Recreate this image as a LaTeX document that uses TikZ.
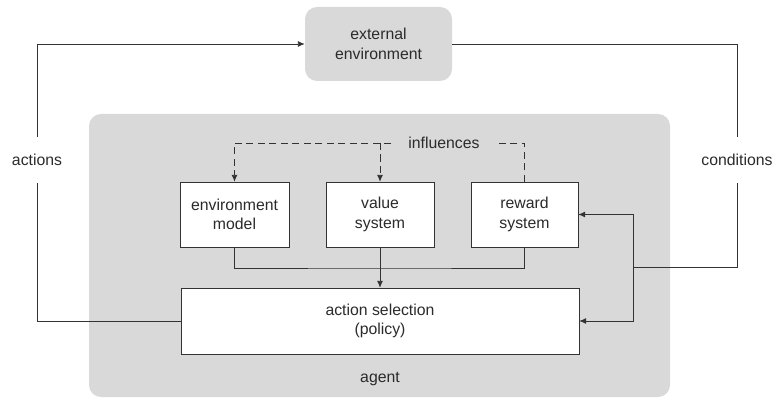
\documentclass[tikz,border=0pt]{standalone}
\usepackage{fontspec}
\setmainfont{Liberation Sans}
\usepackage{xcolor}
\usetikzlibrary{arrows.meta,calc,positioning}
\definecolor{agentgray}{HTML}{D9D9D9}
\definecolor{linegray}{HTML}{333333}
\definecolor{textgray}{HTML}{2B2B2B}
\tikzset{%
	outerbox/.style = {fill=agentgray, rectangle, rounded corners=12pt, inner sep=0pt, text centered},
	process/.style  = {draw=linegray, fill=white, rectangle, minimum height=65pt, inner sep=0pt, align=center},
	sidetext/.style = {inner sep=0pt, minimum height=46pt, align=center},
	link/.style     = {draw=linegray, line width=0.9pt},
	arrow/.style    = {link, -{Latex[length=7pt,width=6pt]}},
	dashlink/.style = {link, dash pattern=on 7pt off 4.5pt},
}

\begin{document}
\begin{tikzpicture}[x=1pt,y=-1pt,font=\fontsize{15.8}{19.5}\selectfont,text=textgray]
		\useasboundingbox (0,0) rectangle (775,398);
		
		% environment and agent
		\node[outerbox, minimum width=147pt, minimum height=74pt, align=center] (extenv) at (378.5,44) {external\\environment};
		\node[outerbox, minimum width=581pt, minimum height=283pt] (agent) at (379.5,255.5) {};
		\node (agentname) at (380,379) {agent};
		
		% components of the agent
		\node[process, minimum width=109pt] (envmodel) at (234.5,214.5) {environment\\model};
		\node[process, minimum width=108pt] (value) at (380,214.5) {value\\system};
		\node[process, minimum width=107pt] (reward) at (524.5,214.5) {reward\\system};
		\node[process, minimum width=398pt, minimum height=66pt] (action) at (380,321) {action selection\\(policy)};
		
		% side labels
		\node[sidetext] (actions) at (37,160) {actions};
		\node[sidetext] (conditions) at (737,160) {conditions};
		\node[inner xsep=17pt, inner ysep=0pt] (influences) at (444,143) {influences};
		\coordinate (merge) at (380,268);
		\coordinate (split) at (633,267);
		
		% outer loop
		\draw[link] (action.west) -| (actions.south);
		\draw[arrow] (actions.north) |- (extenv.west);
		\draw[link] (extenv.east) -| (conditions.north);
		\draw[link] (conditions.south) |- (split);
		\draw[arrow] (split) |- (reward.east);
		\draw[arrow] (split) |- (action.east);
		
		% inside the agent
		\draw[link] (envmodel.south) |- (merge) -| (reward.south);
		\draw[arrow] (value.south) -- (action.north);
		\draw[dashlink] (reward.north) |- (influences.east);
		\draw[dashlink, -{Latex[length=7pt,width=6pt]}] (influences.west) -| (envmodel.north);
		\draw[dashlink, -{Latex[length=7pt,width=6pt]}] (value.north |- influences.west) -- (value.north);
		
\end{tikzpicture}
\end{document}
